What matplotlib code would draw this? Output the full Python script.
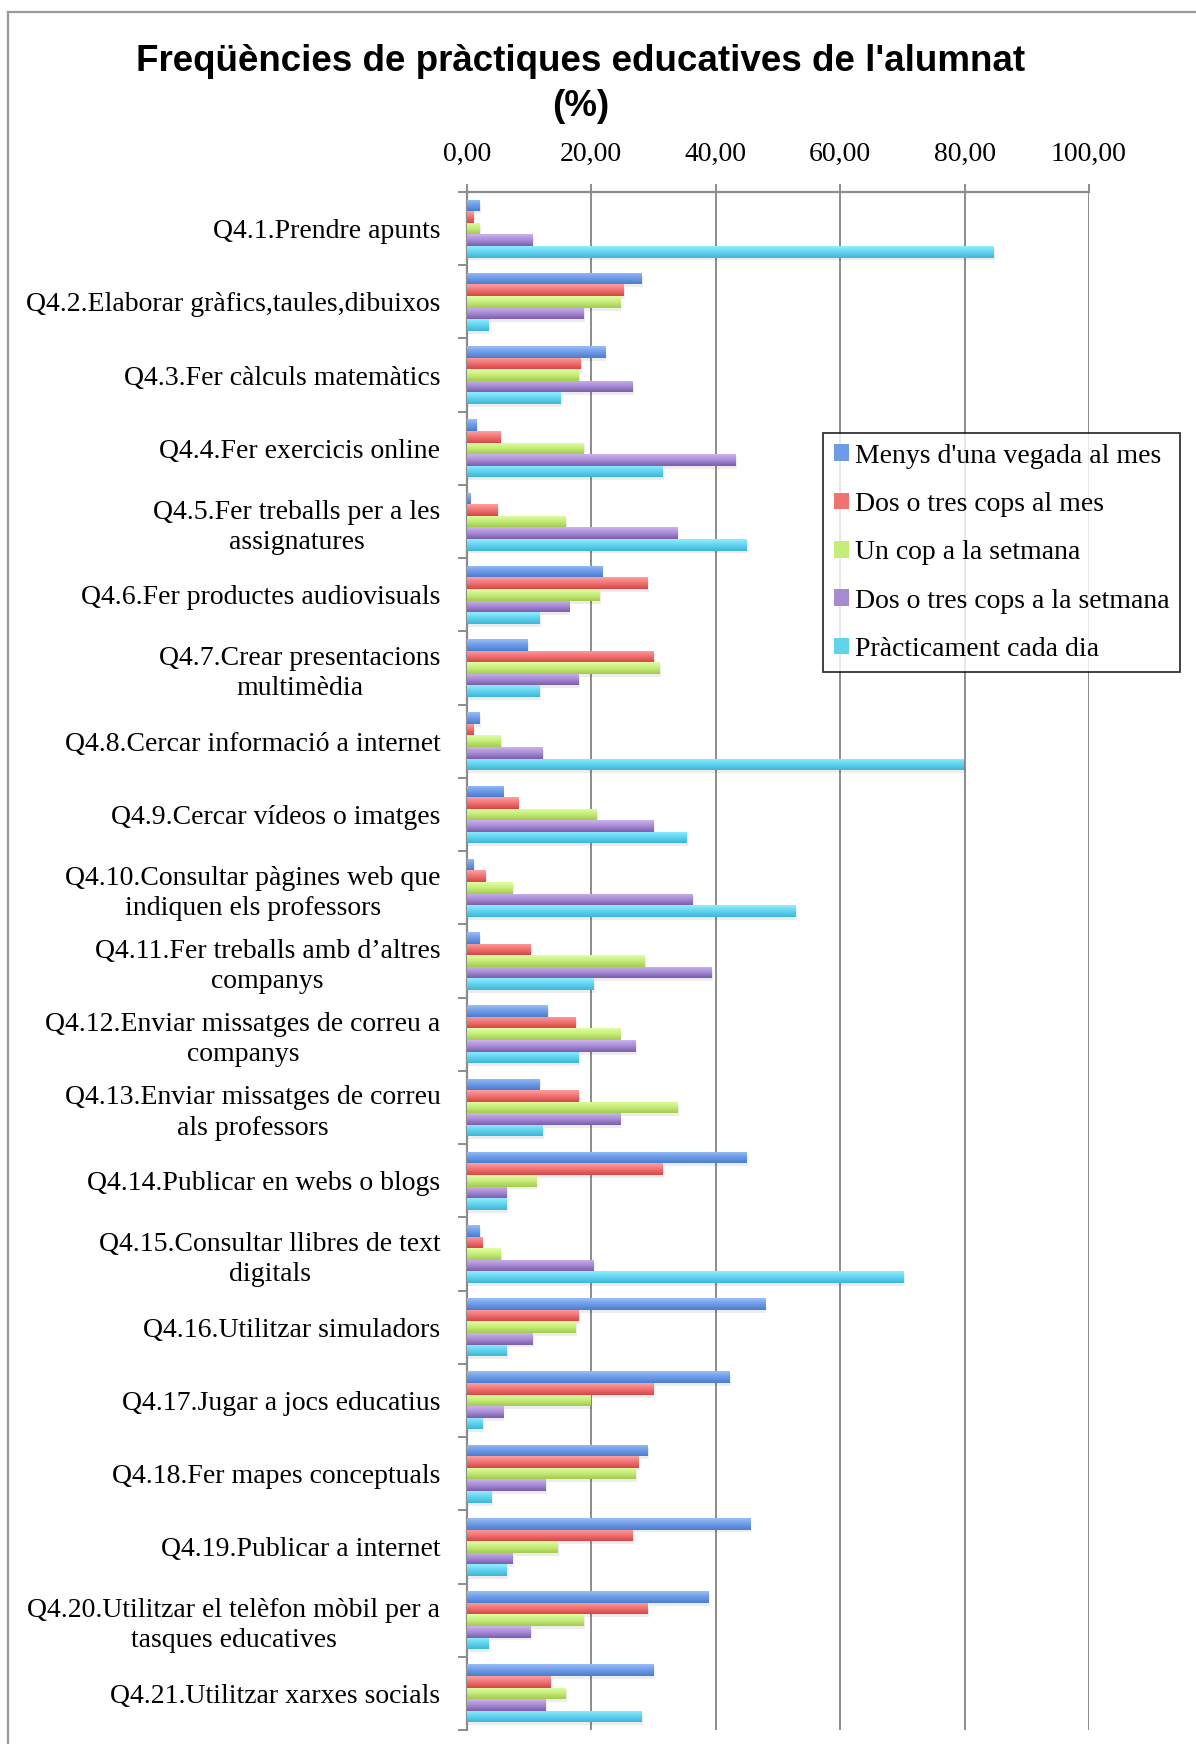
import numpy as np
import matplotlib
matplotlib.use("Agg")
import matplotlib.pyplot as plt
from matplotlib.colors import LinearSegmentedColormap
from matplotlib.lines import Line2D
from matplotlib.ticker import FuncFormatter, FixedLocator

categories = [
    "Q4.1.Prendre apunts",
    "Q4.2.Elaborar gràfics,taules,dibuixos",
    "Q4.3.Fer càlculs matemàtics",
    "Q4.4.Fer exercicis online",
    "Q4.5.Fer treballs per a les\nassignatures",
    "Q4.6.Fer productes audiovisuals",
    "Q4.7.Crear presentacions\nmultimèdia",
    "Q4.8.Cercar informació a internet",
    "Q4.9.Cercar vídeos o imatges",
    "Q4.10.Consultar pàgines web que\nindiquen els professors",
    "Q4.11.Fer treballs amb d’altres\ncompanys",
    "Q4.12.Enviar missatges de correu a\ncompanys",
    "Q4.13.Enviar missatges de correu\nals professors",
    "Q4.14.Publicar en webs o blogs",
    "Q4.15.Consultar llibres de text\ndigitals",
    "Q4.16.Utilitzar simuladors",
    "Q4.17.Jugar a jocs educatius",
    "Q4.18.Fer mapes conceptuals",
    "Q4.19.Publicar a internet",
    "Q4.20.Utilitzar el telèfon mòbil per a\ntasques educatives",
    "Q4.21.Utilitzar xarxes socials",
]

series_names = [
    "Menys d'una vegada al mes",
    "Dos o tres cops al mes",
    "Un cop a la setmana",
    "Dos o tres cops a la setmana",
    "Pràcticament cada dia",
]

menys_mes = [2.0, 28.0, 22.2, 1.5, 0.5, 21.7, 9.7, 2.0, 5.8, 1.0, 2.0,
             13.0, 11.6, 45.0, 2.0, 47.9, 42.2, 29.0, 45.5, 38.8, 30.0]
dos_tres_mes = [1.0, 25.1, 18.3, 5.4, 4.9, 29.0, 30.0, 1.0, 8.2, 3.0, 10.2,
                17.4, 17.9, 31.4, 2.5, 17.9, 30.0, 27.5, 26.6, 29.0, 13.5]
un_setmana = [2.0, 24.6, 17.9, 18.8, 15.9, 21.3, 30.9, 5.4, 20.8, 7.3, 28.5,
              24.6, 33.8, 11.1, 5.4, 17.4, 19.8, 27.1, 14.5, 18.8, 15.9]
dos_tres_setmana = [10.6, 18.8, 26.6, 43.1, 33.8, 16.4, 17.9, 12.1, 30.0, 36.2, 39.3,
                    27.1, 24.6, 6.3, 20.3, 10.6, 5.8, 12.6, 7.3, 10.2, 12.6]
cada_dia = [84.6, 3.4, 15.0, 31.4, 45.0, 11.6, 11.6, 79.8, 35.3, 52.8, 20.3,
            17.9, 12.1, 6.3, 70.2, 6.3, 2.5, 3.9, 6.3, 3.4, 28.0]

x_ticks = [0, 20, 40, 60, 80, 100]

series_values = [menys_mes, dos_tres_mes, un_setmana, dos_tres_setmana, cada_dia]
grad_colors = [
    ("#98BEF9", "#6E9BE6", "#4A7DCF"),
    ("#FFA0A0", "#F07272", "#D64646"),
    ("#E0FFA2", "#C6EC7A", "#A2CB4E"),
    ("#CBB3EE", "#A68BD3", "#7D5DAE"),
    ("#90EEFF", "#62D3EF", "#3EB6D6"),
]

W, H = 1196, 1744
fig = plt.figure(figsize=(W / 100, H / 100), dpi=100)
fig.patch.set_facecolor("white")

left_px, right_px, top_px, bottom_px = 466.8, 1089.0, 192.0, 1730.0
ax = fig.add_axes([left_px / W, 1 - bottom_px / H,
                   (right_px - left_px) / W, (bottom_px - top_px) / H])

serif = ["Liberation Serif", "DejaVu Serif"]
n = len(categories)
y = np.arange(n)
bh = 0.158
grey = "#8C8C8C"

grad = np.linspace(0, 1, 64).reshape(-1, 1)
for j, (vals, cols) in enumerate(zip(series_values, grad_colors)):
    offs = (j - 2) * bh
    bars = ax.barh(y + offs, vals, height=bh, color=cols[1], edgecolor="none",
                   label=series_names[j], zorder=3)
    cmap = LinearSegmentedColormap.from_list("g%d" % j, [cols[0], cols[1], cols[2]])
    for rect in bars:
        x0, y0 = rect.get_x(), rect.get_y()
        w, h = rect.get_width(), rect.get_height()
        ax.add_patch(plt.Rectangle((x0 + 0.25, y0 + 0.04), w, h, color="#000000",
                                   alpha=0.07, zorder=2.5, lw=0))
        im = ax.imshow(grad, cmap=cmap, extent=(x0, x0 + w, y0 + h, y0),
                       origin="upper", aspect="auto", zorder=3.5, interpolation="bilinear")
        im.set_clip_path(rect)

ax.set_xlim(0, 100)
ax.set_ylim(n - 0.5, -0.5)

# x axis at top
ax.xaxis.tick_top()
ax.set_xticks(x_ticks)
ax.xaxis.set_major_formatter(FuncFormatter(lambda v, p: ("%.2f" % v).replace(".", ",")))
ax.tick_params(axis="x", which="major", direction="out", length=5.8, width=1.4,
               color=grey, pad=12.5, labelsize=20)
for lab in ax.get_xticklabels():
    lab.set_fontfamily(serif)
ax.grid(axis="x", color=grey, linewidth=1.4, zorder=1)
ax.set_axisbelow(True)

# y axis
ax.set_yticks(y)
ax.set_yticklabels(categories)
ax.yaxis.set_minor_locator(FixedLocator(np.arange(-0.5, n, 1.0)))
ax.tick_params(axis="y", which="major", length=0, pad=19, labelsize=20)
ax.tick_params(axis="y", which="minor", direction="out", length=6.5, width=1.4, color=grey)
for lab in ax.get_yticklabels():
    lab.set_fontfamily(serif)
    lab.set_multialignment("center")
    lab.set_linespacing(1.27)

for s in ["right", "bottom"]:
    ax.spines[s].set_visible(False)
for s in ["top", "left"]:
    ax.spines[s].set_color(grey)
    ax.spines[s].set_linewidth(1.6)

# legend
leg = ax.legend(loc="upper left", bbox_to_anchor=(823 / W, 1 - 433 / H),
                bbox_transform=fig.transFigure, borderaxespad=0,
                prop={"family": serif, "size": 20}, frameon=True, fancybox=False,
                handlelength=0.55, handleheight=0.55, handletextpad=0.22,
                labelspacing=0.84, borderpad=0.38)
leg.get_frame().set_edgecolor("black")
leg.get_frame().set_linewidth(1.3)
leg.set_zorder(10)

# title
fig.text(581 / W, 1 - 71 / H, "Freqüències de pràctiques educatives de l'alumnat",
         ha="center", va="baseline", fontsize=26.5, fontweight="bold",
         family=["Liberation Sans", "DejaVu Sans"])
fig.text(581 / W, 1 - 116 / H, "(%)", ha="center", va="baseline", fontsize=26.5,
         fontweight="bold", family=["Liberation Sans", "DejaVu Sans"])

# outer chart border (top and left visible)
fig.add_artist(Line2D([8 / W, 1.0], [1 - 12 / H, 1 - 12 / H], color="#999999",
                      lw=1.6, transform=fig.transFigure))
fig.add_artist(Line2D([8 / W, 8 / W], [1 - 12 / H, 0.0], color="#999999",
                      lw=1.6, transform=fig.transFigure))

fig.savefig("out.png", dpi=100, facecolor="white")
